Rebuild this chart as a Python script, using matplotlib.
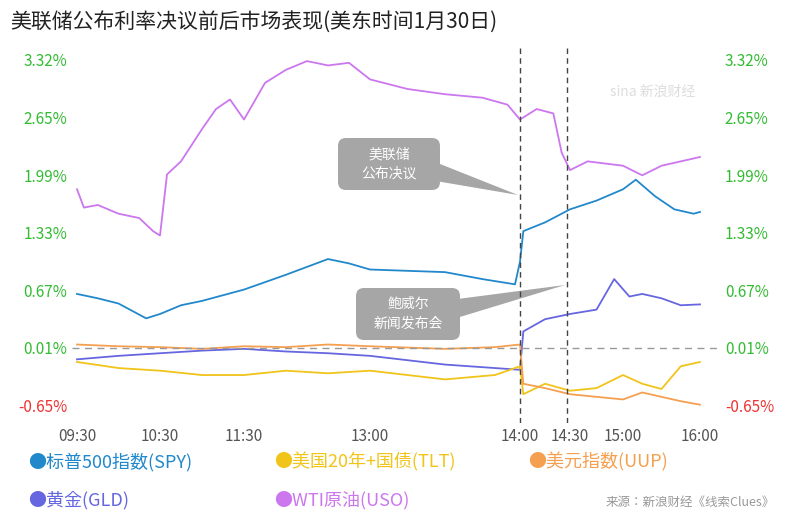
import numpy as np
import matplotlib.pyplot as plt
from matplotlib.patches import FancyBboxPatch, Polygon

plt.rcParams['font.family'] = ['Noto Sans CJK JP', 'DejaVu Sans']

# === Dane (minuty od 9:30) ===
tick_min = [0, 60, 120, 210, 270, 300, 330, 390]
tick_lbl = ["09:30", "10:30", "11:30", "13:00", "14:00", "14:30", "15:00", "16:00"]
tick_pos = [77, 160, 244, 370, 520, 570, 623, 700]
yticks = [-0.65, 0.01, 0.67, 1.33, 1.99, 2.65, 3.32]

uso_t = [0, 5, 15, 30, 45, 55, 60, 65, 75, 90, 100, 110, 120, 135, 150, 165, 180, 195, 210, 225, 240, 255, 265, 270, 280, 290, 295, 300, 310, 330, 345, 360, 375, 390]
uso_v = [1.83, 1.62, 1.65, 1.55, 1.50, 1.35, 1.30, 2.00, 2.15, 2.52, 2.75, 2.86, 2.63, 3.05, 3.20, 3.30, 3.25, 3.28, 3.09, 2.98, 2.92, 2.88, 2.80, 2.63, 2.75, 2.70, 2.25, 2.05, 2.15, 2.10, 1.99, 2.10, 2.15, 2.20]

spy_t = [0, 15, 30, 50, 60, 75, 90, 120, 150, 180, 195, 210, 240, 255, 268, 270, 272, 285, 300, 315, 330, 340, 355, 370, 385, 390]
spy_v = [0.63, 0.58, 0.52, 0.35, 0.40, 0.50, 0.55, 0.68, 0.85, 1.03, 0.98, 0.91, 0.88, 0.80, 0.74, 1.00, 1.35, 1.45, 1.60, 1.70, 1.83, 1.94, 1.75, 1.60, 1.55, 1.57]

gld_t = [0, 30, 60, 90, 120, 150, 180, 210, 240, 260, 270, 272, 285, 300, 315, 325, 335, 345, 360, 375, 390]
gld_v = [-0.12, -0.08, -0.05, -0.02, 0.00, -0.03, -0.05, -0.08, -0.18, -0.22, -0.24, 0.20, 0.34, 0.40, 0.45, 0.80, 0.60, 0.63, 0.58, 0.50, 0.51]

tlt_t = [0, 30, 60, 90, 120, 150, 180, 210, 240, 260, 270, 272, 285, 300, 315, 330, 345, 360, 375, 390]
tlt_v = [-0.15, -0.22, -0.25, -0.30, -0.30, -0.25, -0.28, -0.25, -0.35, -0.30, -0.20, -0.52, -0.40, -0.48, -0.45, -0.30, -0.40, -0.46, -0.20, -0.15]

uup_t = [0, 30, 60, 90, 120, 150, 180, 210, 240, 260, 270, 272, 285, 300, 315, 330, 345, 360, 375, 390]
uup_v = [0.05, 0.03, 0.02, 0.00, 0.03, 0.02, 0.05, 0.03, 0.00, 0.02, 0.05, -0.40, -0.45, -0.52, -0.55, -0.58, -0.50, -0.55, -0.60, -0.64]

series = [
    ("WTI原油(USO)", uso_t, uso_v, "#cc77ee"),
    ("标普500指数(SPY)", spy_t, spy_v, "#2288cc"),
    ("黄金(GLD)", gld_t, gld_v, "#6666e0"),
    ("美国20年+国债(TLT)", tlt_t, tlt_v, "#f0c419"),
    ("美元指数(UUP)", uup_t, uup_v, "#f5a050"),
]

def pos(t):
    return np.interp(t, tick_min, tick_pos)

fig = plt.figure(figsize=(7.86, 5.19), dpi=100)
ax = fig.add_axes([72 / 786, 1 - 423 / 519, 648 / 786, 375 / 519])

for name, t, v, c in series:
    ax.plot(pos(t), v, color=c, lw=1.3)

ax.axhline(0.01, color='#999999', ls=(0, (5, 4)), lw=1)
for tm in [270, 298]:
    ax.axvline(pos(tm), color='#444444', ls=(0, (4, 3)), lw=1)

ax.set_xlim(72, 720)
ax.set_ylim(-0.85, 3.45)
ax.set_xticks(tick_pos)
ax.set_xticklabels(tick_lbl, color='#555555', fontsize=11)
ax.set_yticks(yticks)
ax.set_yticklabels([f"{y:.2f}%" for y in yticks], fontsize=11)
ax.tick_params(length=0)
ax.tick_params(axis='y', labelright=True)
for tk in ax.yaxis.get_major_ticks():
    y = tk.label1.get_position()[1]
    col = '#ee3333' if y < 0 else '#33bb33'
    tk.label1.set_color(col)
    tk.label2.set_color(col)
for s in ax.spines.values():
    s.set_visible(False)

# Teksty w pikselach (transform=None)
def ptext(x, y, s, **kw):
    ax.text(x, 519 - y, s, transform=None, **kw)

def bubble(x, y, w, h, tip, text):
    ax.add_patch(FancyBboxPatch((x, y), w, h, boxstyle="round,pad=0,rounding_size=8",
                                transform=None, fc='#a6a6a6', ec='none'))
    ax.add_patch(Polygon(tip, closed=True, transform=None, fc='#a6a6a6', ec='none'))
    ax.text(x + w / 2, y + h / 2, text, transform=None, ha='center', va='center',
            color='white', fontsize=10, linespacing=1.5)

bubble(338, 519 - 190, 102, 52, [(430, 519 - 160), (518, 519 - 195), (430, 519 - 180)], "美联储\n公布决议")
bubble(356, 519 - 340, 104, 52, [(450, 519 - 300), (565, 519 - 285), (450, 519 - 320)], "鲍威尔\n新闻发布会")

ptext(10, 22, "美联储公布利率决议前后市场表现(美东时间1月30日)",
      fontsize=15, va='center', color='#222222')
ptext(610, 92, "sina 新浪财经", fontsize=10, color='#dddddd', va='center')

leg = [("●标普500指数(SPY)", 28, 462, "#2288cc"),
       ("●美国20年+国债(TLT)", 274, 462, "#f0c419"),
       ("●美元指数(UUP)", 528, 462, "#f5a050"),
       ("●黄金(GLD)", 28, 500, "#6666e0"),
       ("●WTI原油(USO)", 274, 500, "#cc77ee")]
for txt, x, y, c in leg:
    ptext(x, y, txt, color=c, fontsize=13, va='center')
ptext(775, 502, "来源：新浪财经《线索Clues》", ha='right', va='center',
      fontsize=9, color='#999999')

fig.savefig("out.png", dpi=100)
